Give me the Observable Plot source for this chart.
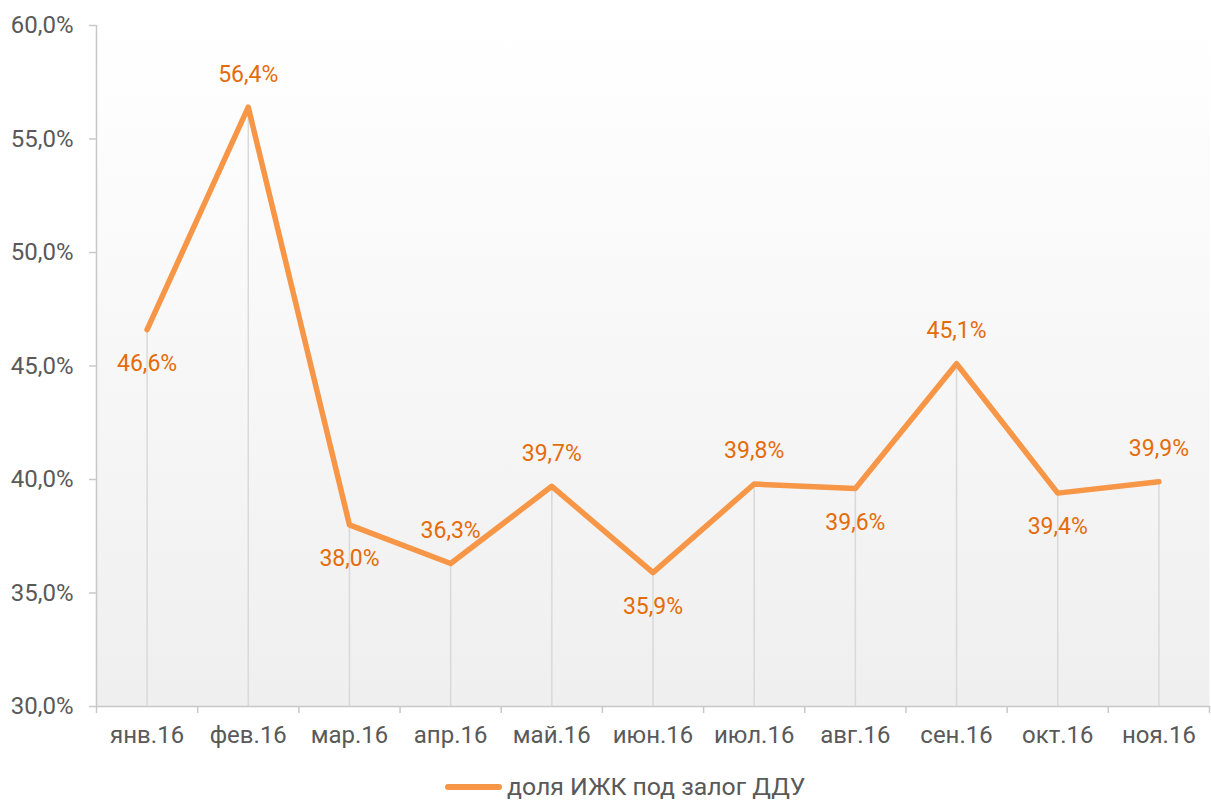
<!DOCTYPE html>
<html><head><meta charset="utf-8">
<script src="https://cdn.jsdelivr.net/npm/d3@7"></script>
<script src="https://cdn.jsdelivr.net/npm/@observablehq/plot@0.6"></script>
<style>
body{margin:0;background:#fff;font-family:Roboto,sans-serif;}
#chart{position:relative;width:1211px;}
#legend{position:absolute;left:445px;top:772px;display:flex;align-items:center;font-size:24.8px;color:#595959;font-family:Roboto,sans-serif;}
#legend .sw{width:57px;height:6px;border-radius:3px;background:#f79646;margin-right:5px;}
</style></head>
<body>
<div id="chart"></div>
<div id="legend"><div class="sw"></div><span>доля ИЖК под залог ДДУ</span></div>
<script>
const months = ["янв.16","фев.16","мар.16","апр.16","май.16","июн.16","июл.16","авг.16","сен.16","окт.16","ноя.16"];
const values = [46.6,56.4,38.0,36.3,39.7,35.9,39.8,39.6,45.1,39.4,39.9];
const yTicks = [30,35,40,45,50,55,60];
const seriesName = "доля ИЖК под залог ДДУ";
const labelsAbove = ["фев.16","апр.16","май.16","июл.16","сен.16","ноя.16"];

const data = months.map((m,i)=>({i, m, v: values[i], above: labelsAbove.includes(m)}));
const bounds = d3.range(months.length+1).map(k=>k-0.5);
const fmt = v => v.toFixed(1).replace(".", ",") + "%";

const W = 1211, H = 765;
const chart = Plot.plot({
  width: W, height: H,
  marginLeft: 96, marginRight: 2, marginTop: 25, marginBottom: H-706,
  style: {fontFamily: "Roboto, sans-serif", fontSize: "24px", color: "#595959", background: "transparent"},
  x: {domain: [-0.5, months.length-0.5]},
  y: {domain: [30, 60]},
  marks: [
    Plot.frame({fill: "url(#bggrad)", stroke: null}),
    Plot.ruleX(data, {x: "i", y1: 30, y2: "v", stroke: "#d9d9d9", strokeWidth: 1.5}),
    Plot.ruleY([30], {stroke: "#c8c8c8", strokeWidth: 1.5}),
    Plot.ruleX([-0.5], {stroke: "#c8c8c8", strokeWidth: 1.5}),
    Plot.axisY({ticks: yTicks, tickSize: 7, tickPadding: 16, tickFormat: fmt, stroke: "#c8c8c8", strokeWidth: 1.5, label: null, fill: "#595959", fontSize: "24px"}),
    Plot.axisX({ticks: bounds, tickSize: 7, tickFormat: () => "", stroke: "#c8c8c8", strokeWidth: 1.5, label: null}),
    Plot.axisX({ticks: d3.range(months.length), tickSize: 0, tickPadding: 19, tickFormat: i => months[i], label: null, fill: "#595959", fontSize: "24px"}),
    Plot.line(data, {x: "i", y: "v", stroke: "#f79646", strokeWidth: 5.5, strokeLinejoin: "round", strokeLinecap: "round"}),
    Plot.text(data.filter(d=>d.above), {x: "i", y: "v", text: d=>fmt(d.v), dy: -33, fill: "#e46c0a", fontSize: "23px"}),
    Plot.text(data.filter(d=>!d.above), {x: "i", y: "v", text: d=>fmt(d.v), dy: 34, fill: "#e46c0a", fontSize: "23px"})
  ]
});
const svg = d3.select(chart);
const defs = svg.insert("defs", ":first-child");
const g = defs.append("linearGradient").attr("id","bggrad").attr("x1",0).attr("y1",0).attr("x2",0).attr("y2",1);
g.append("stop").attr("offset","0%").attr("stop-color","#ffffff");
g.append("stop").attr("offset","100%").attr("stop-color","#efefef");
document.getElementById("chart").appendChild(chart);
</script>
</body></html>
